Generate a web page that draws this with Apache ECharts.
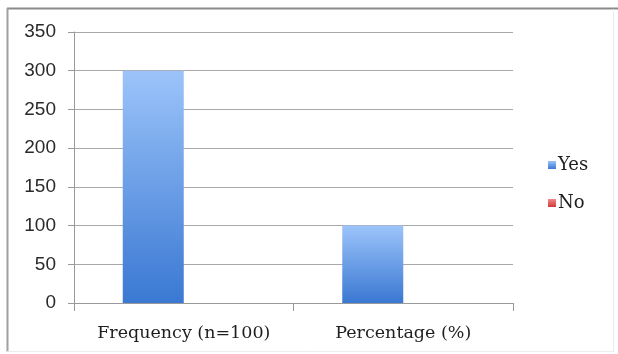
<!DOCTYPE html>
<html>
<head>
<meta charset="utf-8">
<script src="https://cdn.jsdelivr.net/npm/echarts@6/dist/echarts.min.js"></script>
<style>
  html, body { margin: 0; padding: 0; background: #fff; }
  #chart { width: 618px; height: 354px; }
</style>
</head>
<body>
<div id="chart"></div>
<script>
// Survey answers, by measure
const categories = ['Frequency (n=100)', 'Percentage (%)'];
const seriesNames = ['Yes', 'No'];
const yesValues = [300, 100];
const noValues = [0, 0];
const yTicks = { min: 0, max: 350, interval: 50 };

const serifFont = '"DejaVu Serif", serif';
const sansFont = '"Liberation Sans", Arial, sans-serif';

function vGrad(top, bottom) {
  return new echarts.graphic.LinearGradient(0, 0, 0, 1, [
    { offset: 0, color: top },
    { offset: 1, color: bottom }
  ]);
}

const chart = echarts.init(document.getElementById('chart'), null, { renderer: 'canvas' });

chart.setOption({
  backgroundColor: '#ffffff',
  animation: false,
  grid: { left: 74, right: 105, top: 32, bottom: 51, containLabel: false },
  legend: {
    orient: 'vertical',
    left: 543,
    top: 151,
    itemWidth: 8,
    itemHeight: 8,
    itemGap: 20,
    icon: 'rect',
    textStyle: { fontFamily: serifFont, fontSize: 18, color: '#1e1e1e', padding: [0, 0, 0, -3] },
    data: seriesNames
  },
  xAxis: {
    type: 'category',
    data: categories,
    axisLine: { lineStyle: { color: '#9a9a9a', width: 1 } },
    axisTick: { show: true, length: 8, alignWithLabel: false, lineStyle: { color: '#9a9a9a' } },
    axisLabel: {
      interval: 0,
      hideOverlap: false,
      fontFamily: serifFont,
      fontSize: 17.5,
      color: '#1e1e1e',
      margin: 21
    },
    splitLine: { show: false }
  },
  yAxis: {
    type: 'value',
    min: yTicks.min,
    max: yTicks.max,
    interval: yTicks.interval,
    axisLine: { show: true, lineStyle: { color: '#9a9a9a', width: 1 } },
    axisTick: { show: true, length: 6, lineStyle: { color: '#9a9a9a' } },
    axisLabel: { fontFamily: sansFont, fontSize: 19, color: '#2a2a2a', margin: 18 },
    splitLine: { show: true, lineStyle: { color: '#a8a8a8', width: 1 } }
  },
  series: [
    {
      name: seriesNames[0],
      type: 'bar',
      data: yesValues,
      barWidth: 61,
      barGap: '0%',
      itemStyle: { color: vGrad('#9cc4fa', '#3a78d2') }
    },
    {
      name: seriesNames[1],
      type: 'bar',
      data: noValues,
      barWidth: 61,
      barGap: '0%',
      itemStyle: { color: vGrad('#f08a8c', '#d03a3c') }
    }
  ],
  graphic: [
    // frame around the chart
    { type: 'line', shape: { x1: 7, y1: 8.5, x2: 618, y2: 8.5 }, style: { stroke: '#8a8a8a', lineWidth: 2 } },
    { type: 'line', shape: { x1: 7.5, y1: 8, x2: 7.5, y2: 352 }, style: { stroke: '#a0a0a0', lineWidth: 2 } },
    { type: 'line', shape: { x1: 613.5, y1: 9, x2: 613.5, y2: 352 }, style: { stroke: '#ececec', lineWidth: 1 } },
    { type: 'line', shape: { x1: 7, y1: 351.5, x2: 614, y2: 351.5 }, style: { stroke: '#ececec', lineWidth: 1 } }
  ]
});
</script>
</body>
</html>
